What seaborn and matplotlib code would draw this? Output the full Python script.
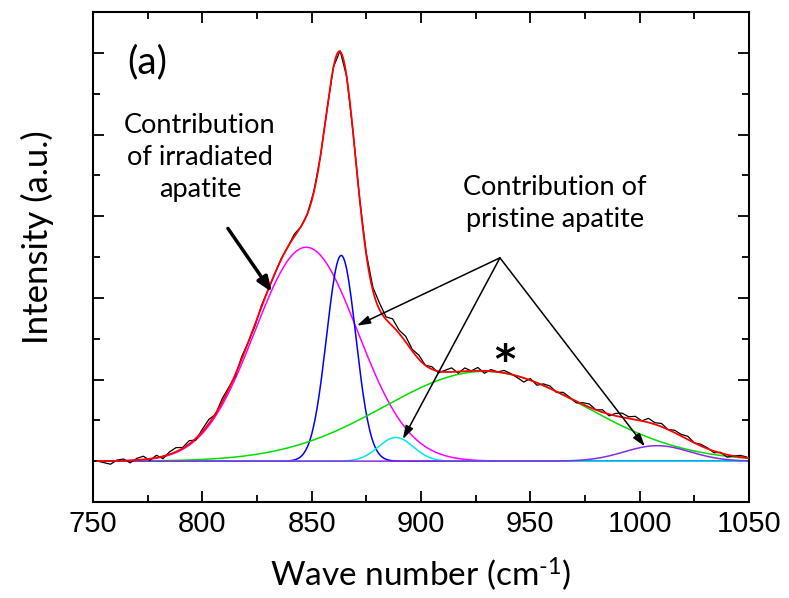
import numpy as np
import pandas as pd
import matplotlib
matplotlib.use("Agg")
import matplotlib.pyplot as plt
import seaborn as sns
from matplotlib.ticker import MultipleLocator

# ---- data ----
# Gaussian components of the fit: centre (cm-1), height (a.u.), width sigma (cm-1)
comp_names = ["irradiated", "pristine 1", "pristine 2", "pristine 3", "pristine 4"]
comp_centers = [847.5, 863.5, 888.5, 929.0, 1008.0]
comp_heights = [2.62, 2.52, 0.29, 1.10, 0.19]
comp_sigmas = [23.5, 6.7, 8.0, 46.0, 15.0]
comp_colors = ["#ff00ff", "#0000ff", "#00e8e8", "#00e000", "#8a2be2"]

data_start, data_step = 752, 3
residuals = [
    0.00, -0.02, -0.04, 0.01, 0.02, -0.03, 0.02, 0.04, -0.02, 0.03,
    -0.03, 0.03, 0.05, 0.01, 0.04, -0.02, 0.03, 0.05, -0.01, 0.04,
    0.02, -0.02, 0.03, 0.00, -0.02, 0.02, 0.00, -0.01, 0.01, 0.00,
    0.03, 0.00, 0.00, 0.01, 0.00, -0.01, 0.00, 0.01, 0.00, 0.00,
    0.00, 0.02, 0.04, 0.08, 0.03, 0.09, 0.04, 0.07, 0.02, 0.05,
    0.00, 0.03, -0.02, 0.02, 0.05, -0.02, 0.04, 0.00, 0.04, -0.03,
    0.02, 0.00, 0.03, 0.01, -0.02, -0.05, 0.02, -0.03, 0.02, 0.03,
    -0.01, 0.03, 0.01, -0.02, 0.02, 0.04, 0.00, 0.03, -0.02, 0.03,
    0.05, 0.02, 0.04, 0.00, 0.05, 0.02, 0.04, 0.00, 0.03, 0.02,
    0.04, 0.00, 0.02, 0.01, -0.02, 0.01, -0.03, 0.00, 0.02, 0.01,
]

x_ticks = [750, 800, 850, 900, 950, 1000, 1050]

# ---- build curves through the component parameters ----
wn = np.arange(752.0, 1050.5, 0.5)
comps = {}
for n, c, h, s in zip(comp_names, comp_centers, comp_heights, comp_sigmas):
    comps[n] = h * np.exp(-0.5 * ((wn - c) / s) ** 2)
fit = np.sum(list(comps.values()), axis=0)

wd = data_start + data_step * np.arange(len(residuals))
fit_d = np.zeros_like(wd, dtype=float)
for c, h, s in zip(comp_centers, comp_heights, comp_sigmas):
    fit_d += h * np.exp(-0.5 * ((wd - c) / s) ** 2)
meas = fit_d + np.array(residuals)

sns.set_style("ticks")
plt.rcParams["font.family"] = ["Lato", "DejaVu Sans"]
plt.rcParams["mathtext.fontset"] = "custom"
plt.rcParams["mathtext.rm"] = "Lato"
plt.rcParams["mathtext.it"] = "Lato:italic"
plt.rcParams["mathtext.bf"] = "Lato:bold"
for k in ["text.color", "axes.labelcolor", "xtick.color", "ytick.color", "axes.edgecolor"]:
    plt.rcParams[k] = "black"

fig = plt.figure(figsize=(7.89, 5.98), dpi=100)
ax = fig.add_axes([0.1179, 0.1605, 0.8314, 0.8194])

sns.lineplot(x=wd, y=meas, ax=ax, color="black", lw=0.9, zorder=3)
for n, col in zip(comp_names, comp_colors):
    sns.lineplot(x=wn, y=comps[n], ax=ax, color=col, lw=1.1, zorder=2)
sns.lineplot(x=wn, y=fit, ax=ax, color="#ff0000", lw=1.3, zorder=4)

ax.set_xlim(750, 1050)
ax.set_ylim(-0.5, 5.5)
ax.set_xticks(x_ticks)
ax.xaxis.set_minor_locator(MultipleLocator(25))
ax.yaxis.set_major_locator(MultipleLocator(1))
ax.yaxis.set_minor_locator(MultipleLocator(0.5))
ax.tick_params(which="both", direction="in", top=True, right=True, width=1.3, color="black")
ax.tick_params(which="major", length=8)
ax.tick_params(which="minor", length=5)
ax.tick_params(axis="y", labelleft=False)
for lab in ax.get_xticklabels():
    lab.set_family(["Liberation Sans", "DejaVu Sans"])
    lab.set_fontsize(21)
    lab.set_color("black")
ax.tick_params(axis="x", pad=6)
for sp in ax.spines.values():
    sp.set_linewidth(1.5)
    sp.set_color("black")

ax.set_xlabel(r"Wave number (cm$^{\text{-}1}$)", fontsize=24, labelpad=12, color="black")
ax.set_ylabel("Intensity (a.u.)", fontsize=25, color="black")
ax.yaxis.set_label_coords(-0.059, 0.54)

ax.text(774.7, 4.88, "(a)", fontsize=28, ha="center", va="center", color="black")
ax.text(798.9, 3.72, "Contribution\nof irradiated\napatite", fontsize=19.5,
        ha="center", va="center", linespacing=1.35, color="black")
ax.text(961.2, 3.16, "Contribution of\npristine apatite", fontsize=19.5,
        ha="center", va="center", linespacing=1.35, color="black")
ax.text(938.4, 1.22, "*", fontsize=29, fontweight="bold", ha="center", va="center",
        family=["DejaVu Sans"], color="black")

ax.annotate("", xy=(831.8, 2.07), xytext=(811.7, 2.85),
            arrowprops=dict(arrowstyle="-|>,head_length=0.9,head_width=0.35", lw=2.5, color="black",
                            shrinkA=0, shrinkB=0), zorder=6)
apex = (936.1, 2.49)
for tgt in [(870.7, 1.66), (891.7, 0.27), (1002.4, 0.18)]:
    ax.annotate("", xy=tgt, xytext=apex,
                arrowprops=dict(arrowstyle="-|>,head_length=0.8,head_width=0.25", lw=1.1, color="black",
                                shrinkA=0, shrinkB=0), zorder=6)

fig.savefig("out.png", dpi=100)
